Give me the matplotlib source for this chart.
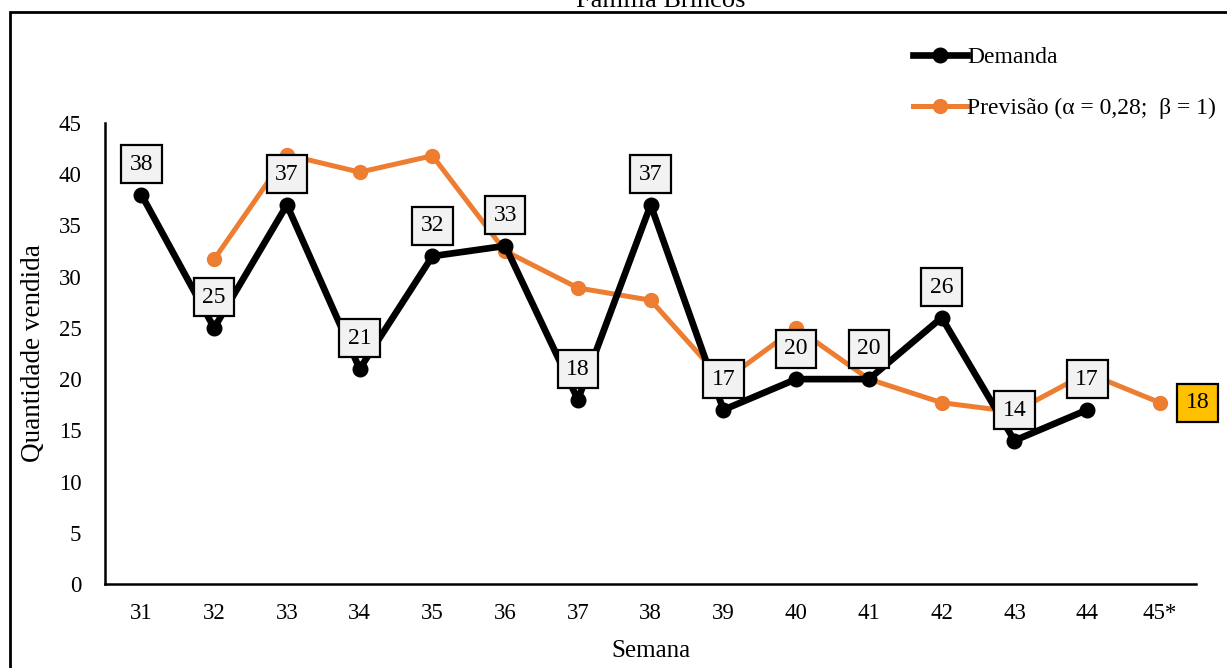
import matplotlib.pyplot as plt
from matplotlib.patches import Rectangle

plt.rcParams['font.family'] = ['Liberation Serif', 'DejaVu Serif']

semanas = ['31', '32', '33', '34', '35', '36', '37', '38', '39', '40', '41', '42', '43', '44', '45*']
demanda = [38, 25, 37, 21, 32, 33, 18, 37, 17, 20, 20, 26, 14, 17]
previsao = [None, 31.7, 41.9, 40.2, 41.8, 32.5, 28.9, 27.7, 19.8, 25.0, 20.0, 17.7, 16.8, 20.6, 17.7]
rotulo_previsao = '18'

PRETO = '#000000'
LARANJA = '#ed7d31'

fig = plt.figure(figsize=(12.27, 6.68), dpi=100)
ax = fig.add_axes([0.0856, 0.1257, 0.8894, 0.6902])

x_dem = list(range(len(demanda)))
x_prev = [i for i, v in enumerate(previsao) if v is not None]
y_prev = [v for v in previsao if v is not None]

ax.plot(x_prev, y_prev, color=LARANJA, lw=3.6, marker='o', ms=10, zorder=2,
        label='Previsão (α = 0,28;  β = 1)')
ax.plot(x_dem, demanda, color=PRETO, lw=4.8, marker='o', ms=10.5, zorder=3,
        label='Demanda')

# rótulos da demanda (caixas cinza acima dos pontos)
for xi, yi in zip(x_dem, demanda):
    ax.annotate(str(yi), (xi, yi), xytext=(0, 22), textcoords='offset points',
                ha='center', va='center', fontsize=17, zorder=5,
                bbox=dict(boxstyle='square,pad=0.36', fc='#f2f2f2', ec='black', lw=1.6))
# rótulo da previsão final
ax.annotate(rotulo_previsao, (x_prev[-1], y_prev[-1]), xytext=(27, 0), textcoords='offset points',
            ha='center', va='center', fontsize=17, zorder=5,
            bbox=dict(boxstyle='square,pad=0.36', fc='#ffc000', ec='black', lw=1.6))

ax.set_xlim(-0.5, len(semanas) - 0.5)
ax.set_ylim(0, 45)
ax.set_xticks(range(len(semanas)))
ax.set_xticklabels(semanas)
ax.set_yticks(range(0, 46, 5))
ax.tick_params(length=0, labelsize=16.5)
ax.tick_params(axis='x', pad=14)
ax.tick_params(axis='y', pad=17)
for s in ['top', 'right']:
    ax.spines[s].set_visible(False)
for s in ['left', 'bottom']:
    ax.spines[s].set_linewidth(1.8)
ax.set_xlabel('Semana', fontsize=18, labelpad=11)
ax.set_ylabel('Quantidade vendida', fontsize=19.5, labelpad=9)

h, l = ax.get_legend_handles_labels()
leg = ax.legend(h[::-1], l[::-1], loc='upper left', bbox_to_anchor=(0.74, 1.165),
                frameon=False, fontsize=17, handlelength=2.3, handletextpad=0.0,
                labelspacing=1.25, borderpad=0, borderaxespad=0)

# moldura da figura e título cortado
fig.patches.append(Rectangle((10 / 1227, -0.05), 1.2, 1 - 12 / 668 + 0.05,
                             transform=fig.transFigure, fill=False, ec='black', lw=2))
fig.text(661 / 1227, 1 - 7 / 668, 'Família Brincos', ha='center', va='baseline', fontsize=19)

fig.savefig('out.png', dpi=100)
